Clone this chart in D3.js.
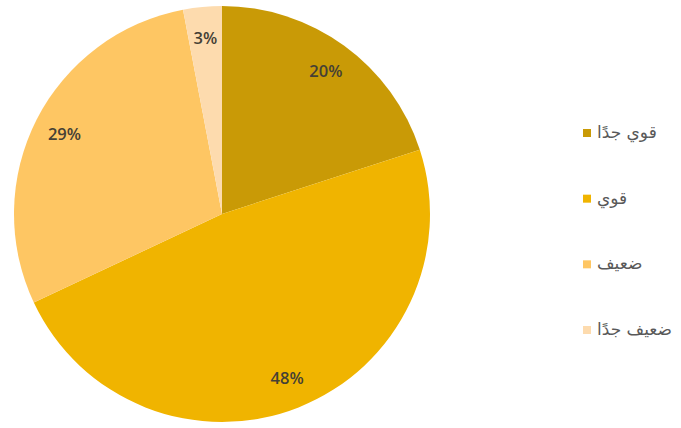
<!DOCTYPE html>
<html><head><meta charset="utf-8">
<script src="https://cdn.jsdelivr.net/npm/d3@7"></script>
<style>html,body{margin:0;padding:0;background:#fff;}svg{display:block;}</style>
</head><body>
<svg id="chart" width="681" height="428"></svg>
<script>
const categories = ["قوي جدًا", "قوي", "ضعيف", "ضعيف جدًا"];
const values = [20, 48, 29, 3];
const labels = ["20%", "48%", "29%", "3%"];
const colors = ["#C99A06", "#F0B400", "#FEC663", "#FDDBAE"];

const svg = d3.select("#chart");
const cx = 222, cy = 214, r = 208;

const pie = d3.pie().sort(null).value(d => d);
const arcs = pie(values);
const arc = d3.arc().innerRadius(0).outerRadius(r);
const labelArc = d3.arc().innerRadius(r * 0.85).outerRadius(r * 0.85);

const g = svg.append("g").attr("transform", `translate(${cx},${cy})`);
g.selectAll("path").data(arcs).join("path")
  .attr("d", arc).attr("fill", (d, i) => colors[i]);

g.selectAll("text").data(arcs).join("text")
  .attr("transform", d => `translate(${labelArc.centroid(d)})`)
  .attr("text-anchor", "middle").attr("dy", "0.36em")
  .attr("font-family", "'Open Sans', sans-serif").attr("font-size", 16.5)
  .attr("font-weight", 600).attr("fill", "#454035")
  .text((d, i) => labels[i]);

const legendY = d3.scalePoint().domain(categories).range([133, 330]);
const lg = svg.append("g");
const items = lg.selectAll("g").data(categories).join("g")
  .attr("transform", d => `translate(583,${legendY(d)})`);
items.append("rect").attr("x", 0).attr("y", -4).attr("width", 8).attr("height", 8)
  .attr("fill", (d, i) => colors[i]);
items.append("text").attr("x", 14).attr("dy", "0.3em")
  .attr("font-family", "'DejaVu Sans', sans-serif").attr("font-size", 17)
  .attr("fill", "#595959").text(d => d);
</script>
</body></html>
